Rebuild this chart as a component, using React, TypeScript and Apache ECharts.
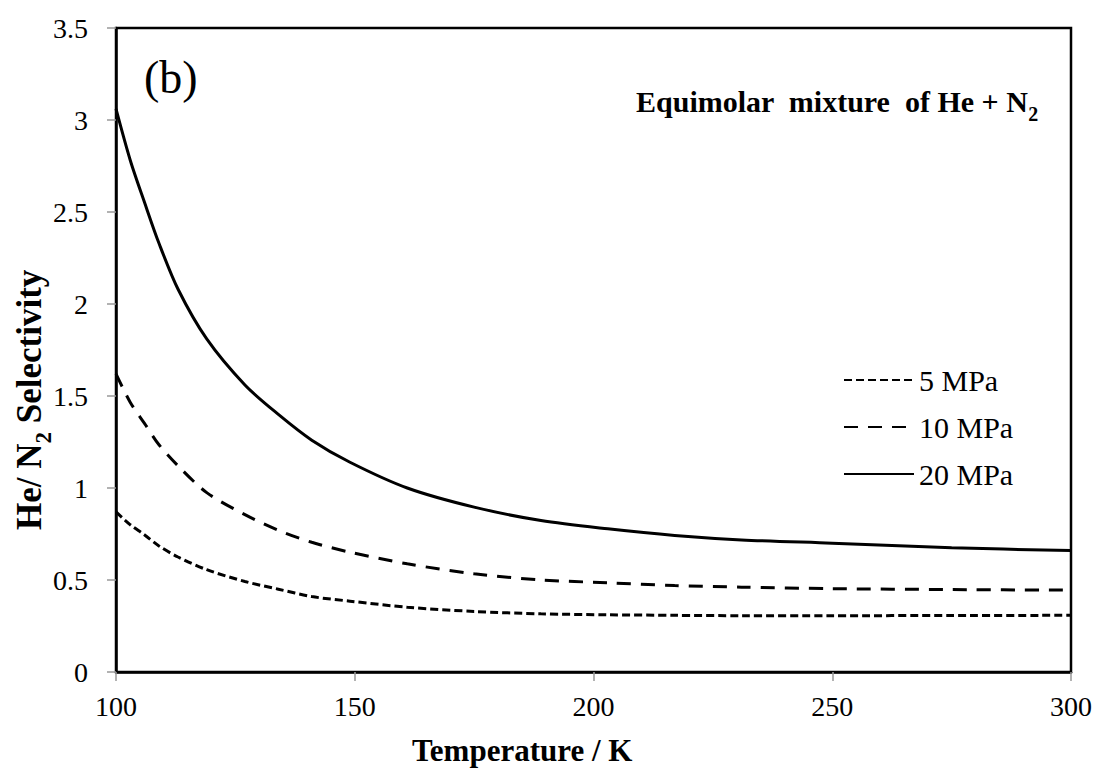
import React, { useEffect, useRef } from "react";
import * as echarts from "echarts";

const temps = [100, 103, 106, 109, 113, 119, 127, 134, 141, 149, 161, 175, 189, 203, 217, 231, 250, 275, 300];
const mpa5 = [0.87, 0.8, 0.745, 0.685, 0.625, 0.556, 0.492, 0.45, 0.41, 0.385, 0.352, 0.329, 0.316, 0.311, 0.308, 0.306, 0.306, 0.307, 0.308];
const mpa10 = [1.62, 1.465, 1.35, 1.235, 1.12, 0.975, 0.855, 0.77, 0.705, 0.651, 0.588, 0.534, 0.5, 0.485, 0.47, 0.461, 0.453, 0.448, 0.445];
const mpa20 = [3.06, 2.78, 2.55, 2.33, 2.08, 1.81, 1.56, 1.4, 1.26, 1.14, 1.0, 0.896, 0.823, 0.778, 0.742, 0.718, 0.7, 0.675, 0.66];
const seriesNames = ["5 MPa", "10 MPa", "20 MPa"];
const seriesValues = [mpa5, mpa10, mpa20];
const dashTypes: any[] = [[8, 4], [14, 10], "solid"];

const FONT = "'Liberation Serif', 'Times New Roman', serif";

export default function App() {
  const ref = useRef<HTMLDivElement>(null);
  useEffect(() => {
    document.body.style.margin = "0";
    const chart = echarts.init(ref.current!, null, { renderer: "svg" });
    chart.setOption({
      animation: false,
      backgroundColor: "#fff",
      textStyle: { fontFamily: FONT, color: "#000" },
      grid: {
        left: 116,
        right: 26,
        top: 28,
        bottom: 99,
        show: true,
        borderColor: "#000",
        borderWidth: 2.5,
        containLabel: false,
        outerBoundsMode: "none",
      },
      xAxis: {
        type: "value",
        min: 100,
        max: 300,
        interval: 50,
        splitLine: { show: false },
        axisLine: { show: true, lineStyle: { color: "#000", width: 2.5 } },
        axisTick: { show: true, length: 9, lineStyle: { color: "#999", width: 1.5 } },
        axisLabel: { fontSize: 28, color: "#000", fontFamily: FONT, margin: 20 },
      },
      yAxis: {
        type: "value",
        min: 0,
        max: 3.5,
        interval: 0.5,
        splitLine: { show: false },
        axisLine: { show: true, lineStyle: { color: "#000", width: 2.5 } },
        axisTick: { show: true, length: 9, lineStyle: { color: "#999", width: 1.5 } },
        axisLabel: { fontSize: 28, color: "#000", fontFamily: FONT, margin: 28 },
      },
      legend: {
        orient: "vertical",
        left: 838,
        top: 360,
        itemWidth: 70,
        itemHeight: 22,
        itemGap: 17,
        itemStyle: { color: "rgba(0,0,0,0)", borderWidth: 0, opacity: 0 },
        textStyle: { fontSize: 30, fontFamily: FONT, color: "#000" },
        data: seriesNames,
      },
      series: seriesNames.map((name, i) => ({
        name,
        type: "line",
        data: temps.map((t, j) => [t, seriesValues[i][j]]),
        smooth: 0.3,
        symbol: "none",
        lineStyle: { color: "#000", width: 3, type: dashTypes[i] },
        itemStyle: { color: "#000" },
      })),
      graphic: [
        {
          type: "text",
          left: 144,
          top: 54,
          style: { text: "(b)", font: `46px ${FONT}`, fill: "#000" },
        },
        {
          type: "text",
          left: 636,
          top: 86,
          style: {
            text: "{m|Equimolar  mixture  of He + N}{s|2}",
            fill: "#000",
            rich: {
              m: { fontSize: 30, fontWeight: "bold", fontFamily: FONT, lineHeight: 34, verticalAlign: "bottom" },
              s: { fontSize: 20, fontWeight: "bold", fontFamily: FONT, lineHeight: 26, verticalAlign: "bottom", padding: [0, 0, -8, 0] },
            },
          },
        },
        {
          type: "text",
          left: 412,
          top: 735,
          style: { text: "Temperature / K", font: `bold 31px ${FONT}`, fill: "#000" },
        },
        {
          type: "text",
          x: 9,
          y: 530,
          rotation: Math.PI / 2,
          style: {
            text: "{m|He/ N}{s|2}{m| Selectivity}",
            fill: "#000",
            rich: {
              m: { fontSize: 35, fontWeight: "bold", fontFamily: FONT, lineHeight: 38, verticalAlign: "bottom" },
              s: { fontSize: 23, fontWeight: "bold", fontFamily: FONT, lineHeight: 28, verticalAlign: "bottom", padding: [0, 0, -8, 0] },
            },
          },
        },
      ],
    });
    return () => chart.dispose();
  }, []);
  return <div ref={ref} style={{ width: 1097, height: 771 }} />;
}
